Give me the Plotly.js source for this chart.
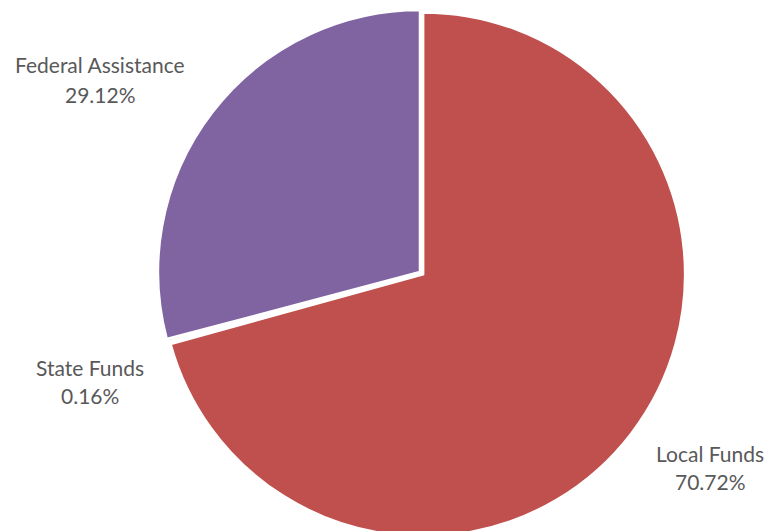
<!DOCTYPE html>
<html>
<head>
<meta charset="utf-8">
<script src="https://cdn.plot.ly/plotly-3.0.1.min.js"></script>
<style>
html,body{margin:0;padding:0;overflow:hidden;background:#fff;}
#chart{width:769px;height:545px;}
</style>
</head>
<body>
<div id="chart"></div>
<script>
// Data
const categories = ["Local Funds", "State Funds", "Federal Assistance"];
const values = [70.72, 0.16, 29.12];
const percentLabels = ["70.72%", "0.16%", "29.12%"];
const sliceColors = ["#C0504D", "#9BBB59", "#8064A2"];

const W = 769, H = 545;
const px = x => x / W;
const py = y => (H - y) / H;

// label positions in pixels (layout only)
const labelPos = {
  "Local Funds": [710, 453, 481],
  "State Funds": [89.5, 367, 395],
  "Federal Assistance": [100, 65, 95]
};

const annotations = [];
categories.forEach((c, i) => {
  const p = labelPos[c];
  const font = {family: "Lato, 'Open Sans', sans-serif", size: 21, color: "#595959"};
  annotations.push({text: c, x: px(p[0]), y: py(p[1]), xref: "paper", yref: "paper",
    xanchor: "center", yanchor: "middle", showarrow: false, font: font});
  annotations.push({text: percentLabels[i], x: px(p[0]), y: py(p[2]), xref: "paper", yref: "paper",
    xanchor: "center", yanchor: "middle", showarrow: false, font: font});
});

const cx = 420, cy = 272, r = 262, pull = 0.015;
const half = r * (1 + pull);

Plotly.newPlot("chart", [{
  type: "pie",
  labels: categories,
  values: values,
  sort: false,
  direction: "clockwise",
  rotation: 0,
  pull: [pull, 0, 0],
  textinfo: "none",
  hoverinfo: "label+percent",
  marker: {colors: sliceColors, line: {color: "#ffffff", width: 2.5}},
  domain: {x: [px(cx - half), px(cx + half)], y: [py(cy + half), py(cy - half)]}
}], {
  width: W, height: H,
  margin: {l: 0, r: 0, t: 0, b: 0},
  showlegend: false,
  paper_bgcolor: "#ffffff",
  annotations: annotations
}, {staticPlot: true});
</script>
</body>
</html>
